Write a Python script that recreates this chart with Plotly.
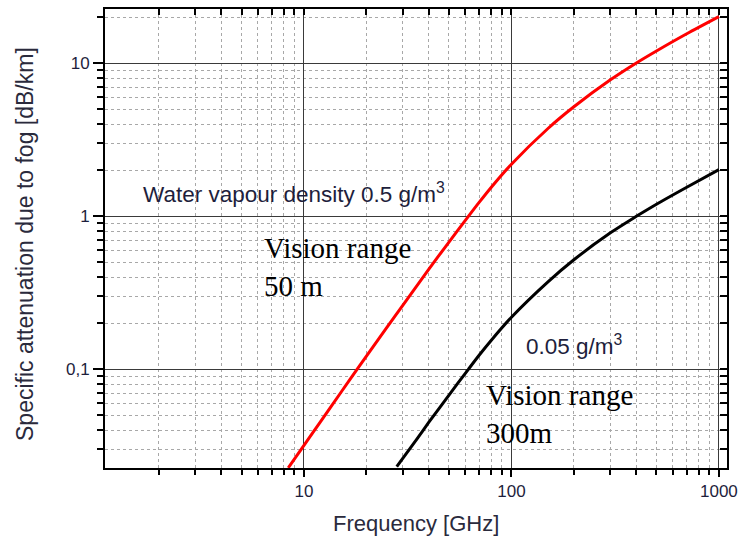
import numpy as np
import plotly.graph_objects as go

# ---- data ----
freq_red = [8.4, 10, 12, 15, 18.2, 25, 30, 40, 50, 62.4, 70, 80, 100, 150, 200, 300, 400, 500, 700, 1000]
att_red = [0.0227, 0.0318, 0.0454, 0.070, 0.1017, 0.1865, 0.263, 0.451, 0.679, 1.01, 1.237, 1.55, 2.19, 3.75,
           5.2, 7.8, 10.05, 12.04, 15.6, 20.2]
freq_black = [28, 30, 35, 40, 50, 62, 70, 80, 100, 150, 200, 300, 400, 500, 700, 1000]
att_black = [0.0231, 0.0263, 0.035, 0.0451, 0.0679, 0.1, 0.124, 0.155, 0.219, 0.373, 0.52, 0.78, 1.0, 1.2,
             1.55, 2.02]

x_tickvals = [10, 100, 1000]
x_ticktext = ["10", "100", "1000"]
y_tickvals = [0.1, 1, 10]
y_ticktext = ["0,1", "1", "10"]

XMIN, XMAX = 0.041, 3.039      # log10 range of x
YMIN, YMAX = -1.645, 1.355     # log10 range of y

x_minor = [k * 10 ** e for e in range(0, 3) for k in range(2, 10)]
x_minor = [v for v in x_minor if XMIN <= np.log10(v) <= XMAX]
y_minor = [k * 10.0 ** e for e in range(-2, 2) for k in range(2, 10)]
y_minor = [v for v in y_minor if YMIN <= np.log10(v) <= YMAX]

L, R, T, B = 105, 13, 9, 71
W, H = 740, 539
PW, PH = W - L - R, H - T - B


def pxx(px):
    return (px - L) / PW


def pxy(py):
    return (H - B - py) / PH


def dx(v):
    return (np.log10(v) - XMIN) / (XMAX - XMIN)


def dy(v):
    return (np.log10(v) - YMIN) / (YMAX - YMIN)


SANS = "Liberation Sans, Arial, sans-serif"
SERIF = "Liberation Serif, Times New Roman, serif"
LABEL = "#1e1e3c"

fig = go.Figure()
fig.add_trace(go.Scatter(x=freq_red, y=att_red, mode="lines",
                         line=dict(color="#ff0000", width=3, shape="spline", smoothing=0.8),
                         showlegend=False, hoverinfo="skip"))
fig.add_trace(go.Scatter(x=freq_black, y=att_black, mode="lines",
                         line=dict(color="#000000", width=3, shape="spline", smoothing=0.8),
                         showlegend=False, hoverinfo="skip"))
# dummy trace to activate the mirrored tick axes
fig.add_trace(go.Scatter(x=[freq_red[-1]], y=[att_red[-1]], xaxis="x2", yaxis="y2", mode="markers",
                         marker=dict(opacity=0), showlegend=False, hoverinfo="skip"))

common_minor_grid = dict(showgrid=True, gridcolor="#a8a8a8", griddash="dot", gridwidth=1)

fig.update_layout(
    width=W, height=H, autosize=False,
    margin=dict(l=L, r=R, t=T, b=B, autoexpand=False),
    paper_bgcolor="white", plot_bgcolor="white",
    font=dict(family=SANS, color=LABEL),
    xaxis=dict(type="log", range=[XMIN, XMAX], tickmode="array", tickvals=x_tickvals, ticktext=x_ticktext,
               automargin=False,
               ticks="outside", ticklen=7, tickwidth=2, tickcolor="black",
               tickfont=dict(size=17, color=LABEL, family=SANS),
               showgrid=True, gridcolor="#3a3a3a", gridwidth=1,
               showline=True, linecolor="black", linewidth=2, mirror=True,
               minor=dict(tickmode="array", tickvals=x_minor, ticks="outside", ticklen=5, tickwidth=2,
                          tickcolor="black", **common_minor_grid)),
    yaxis=dict(type="log", range=[YMIN, YMAX], tickmode="array", tickvals=y_tickvals, ticktext=y_ticktext,
               automargin=False,
               ticks="outside", ticklen=10, tickwidth=2, tickcolor="black",
               tickfont=dict(size=17, color=LABEL, family=SANS),
               showgrid=True, gridcolor="#3a3a3a", gridwidth=1,
               showline=True, linecolor="black", linewidth=2, mirror=True,
               minor=dict(tickmode="array", tickvals=y_minor, ticks="outside", ticklen=6, tickwidth=2,
                          tickcolor="black", **common_minor_grid)),
    xaxis2=dict(type="log", range=[XMIN, XMAX], overlaying="x", side="top", anchor="y", automargin=False,
                tickmode="array", tickvals=x_tickvals, ticks="inside", ticklen=6, tickwidth=2, tickcolor="black",
                showticklabels=False, showgrid=False, showline=False,
                minor=dict(tickmode="array", tickvals=x_minor, ticks="inside", ticklen=6, tickwidth=2,
                           tickcolor="black", showgrid=False)),
    yaxis2=dict(type="log", range=[YMIN, YMAX], overlaying="y", side="right", anchor="x", automargin=False,
                tickmode="array", tickvals=y_tickvals, ticks="inside", ticklen=7, tickwidth=2, tickcolor="black",
                showticklabels=False, showgrid=False, showline=False,
                minor=dict(tickmode="array", tickvals=y_minor, ticks="inside", ticklen=7, tickwidth=2,
                           tickcolor="black", showgrid=False)),
)

# white label backgrounds (above grid, below curves)
fig.add_shape(type="rect", xref="paper", yref="paper", x0=0.003, x1=dx(59), y0=dy(1.0) + 0.002, y1=dy(1.97),
              fillcolor="white", line=dict(width=0), layer="between")
fig.add_shape(type="rect", xref="paper", yref="paper", x0=dx(101.5), x1=dx(350), y0=dy(0.1) + 0.002, y1=dy(0.195),
              fillcolor="white", line=dict(width=0), layer="between")

ann = [
    dict(text="Water vapour density 0.5 g/m<sup>3</sup>", x=pxx(141), y=pxy(193),
         font=dict(family=SANS, size=22.5, color=LABEL)),
    dict(text="Vision range<br>50 m", x=pxx(262), y=pxy(267), font=dict(family=SERIF, size=29, color="black")),
    dict(text="0.05 g/m<sup>3</sup>", x=pxx(524), y=pxy(345), font=dict(family=SANS, size=22.5, color=LABEL)),
    dict(text="Vision range<br>300m", x=pxx(484), y=pxy(414), font=dict(family=SERIF, size=29, color="black")),
]
for a in ann:
    fig.add_annotation(xref="paper", yref="paper", xanchor="left", yanchor="middle", align="left",
                       showarrow=False, **a)

fig.add_annotation(text="Specific attenuation due to fog [dB/km]", xref="paper", yref="paper",
                   x=pxx(25), y=pxy(244), textangle=-90, showarrow=False, xanchor="center", yanchor="middle",
                   font=dict(family=SANS, size=23, color="#2a2a3c"))
fig.add_annotation(text="Frequency [GHz]", xref="paper", yref="paper",
                   x=pxx(416), y=pxy(523), showarrow=False, xanchor="center", yanchor="middle",
                   font=dict(family=SANS, size=22, color="#2a2a3c"))

fig.write_html("out.html", config={"displayModeBar": False, "responsive": False},
               post_script="document.body.style.margin='0';document.body.style.overflow='hidden';")
